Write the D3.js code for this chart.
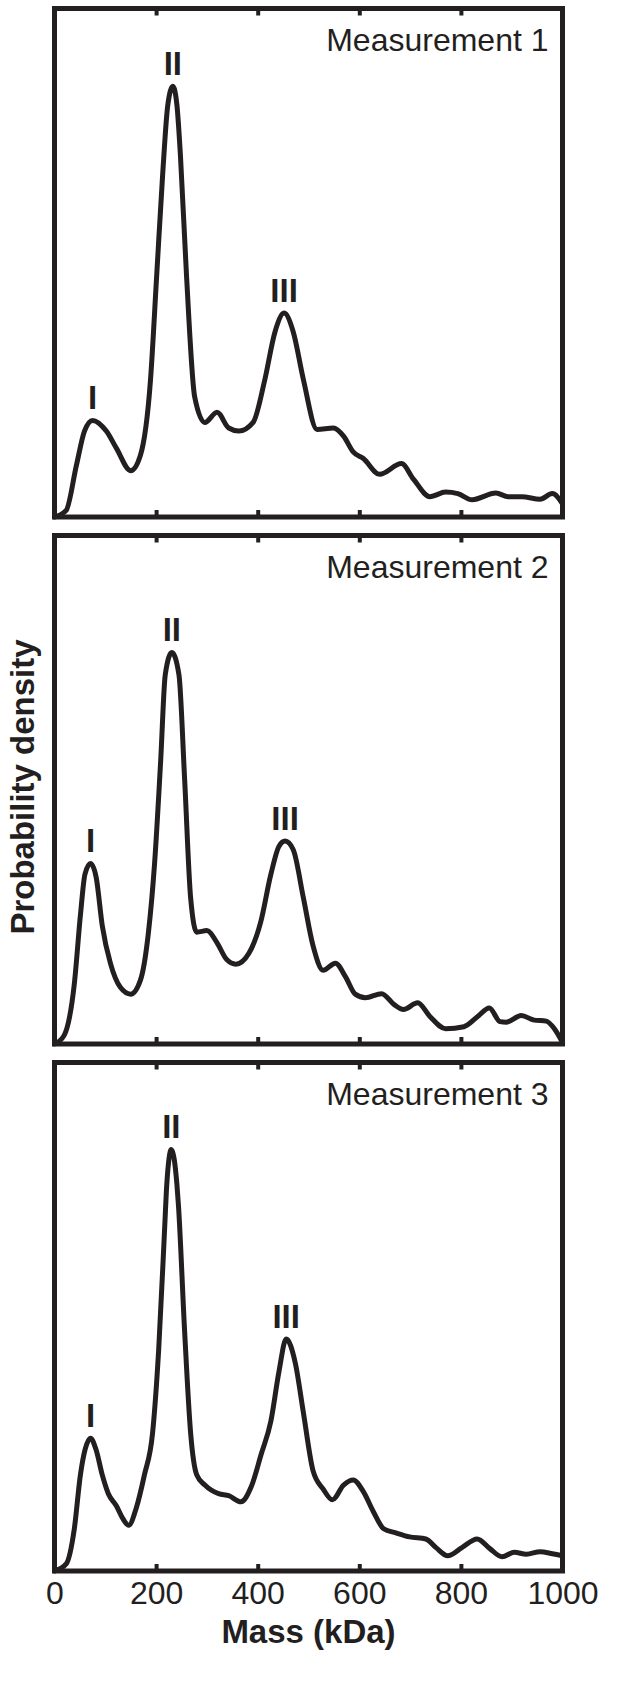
<!DOCTYPE html>
<html>
<head>
<meta charset="utf-8">
<title>Mass photometry - probability density</title>
<style>
  body { margin: 0; background: #fff; }
  svg { display: block; font-family: "Liberation Sans", Arial, sans-serif; }
  .frame { fill: none; stroke: #231f20; stroke-width: 5; }
  .curve { fill: none; stroke: #231f20; stroke-width: 5; stroke-linejoin: round; stroke-linecap: round; }
  .tick line { stroke: #231f20; stroke-width: 4; }
  .tick text { fill: #231f20; font-size: 32px; }
  .name { fill: #231f20; font-size: 32px; }
  .peak { fill: #231f20; font-size: 33px; font-weight: bold; }
  .title { fill: #231f20; font-size: 33px; font-weight: bold; }
</style>
</head>
<body>
<script src="https://cdn.jsdelivr.net/npm/d3@7"></script>
<script>

// values (mass in kDa, density in % of the frame height)
var names = ["Measurement 1", "Measurement 2", "Measurement 3"];

var mass1 = [0, 23, 43, 59, 75, 102, 122, 150, 169, 189, 201, 213, 223, 233, 241, 248, 260, 276, 296, 320, 343, 363, 391, 414, 434, 452, 470, 490, 517, 549, 569, 588, 608, 640, 683, 707, 739, 770, 794, 822, 869, 893, 920, 956, 980, 1000];
var density1 = [0, 1.3, 10.1, 16.9, 19.0, 16.9, 13.5, 9.1, 12.1, 27.0, 47.2, 67.5, 81.0, 84.7, 81.0, 70.9, 47.2, 23.6, 18.6, 20.6, 17.5, 16.9, 18.6, 27.0, 36.4, 40.1, 36.4, 27.0, 17.2, 17.5, 15.9, 12.8, 11.5, 8.4, 10.5, 7.4, 4.0, 4.9, 4.6, 3.4, 4.7, 4.0, 4.0, 3.5, 4.6, 2.6];

var mass2 = [0, 19, 39, 51, 60, 71, 82, 94, 110, 130, 150, 169, 185, 197, 209, 218, 231, 245, 256, 268, 280, 300, 320, 339, 357, 383, 406, 426, 442, 454, 470, 490, 509, 529, 553, 573, 592, 612, 644, 668, 687, 715, 739, 770, 806, 833, 856, 877, 889, 919, 944, 968, 984, 1000];
var density2 = [0, 1.7, 11.8, 25.3, 33.4, 35.5, 32.8, 23.3, 15.9, 11.1, 9.8, 12.5, 22.0, 35.5, 55.7, 72.6, 77.0, 72.6, 52.4, 28.7, 22.0, 22.3, 19.9, 16.6, 15.7, 17.9, 24.0, 33.4, 38.9, 39.9, 38.2, 28.7, 19.3, 14.5, 15.9, 13.2, 9.8, 9.1, 9.9, 7.8, 6.8, 8.1, 5.4, 3.0, 3.4, 5.4, 7.1, 4.4, 4.3, 5.6, 4.7, 4.5, 3.0, 0.3];

var mass3 = [0, 23, 39, 51, 60, 71, 82, 94, 106, 122, 134, 146, 161, 177, 193, 205, 217, 221, 230, 241, 244, 256, 268, 280, 296, 323, 343, 367, 387, 407, 426, 442, 456, 474, 490, 509, 529, 547, 569, 588, 608, 628, 648, 672, 699, 731, 751, 774, 802, 832, 857, 881, 905, 929, 956, 980, 1000];
var density3 = [0, 1.4, 8.3, 18.9, 23.8, 26.1, 23.8, 18.9, 15.2, 12.8, 10.4, 9.0, 12.4, 18.9, 27.1, 43.4, 67.8, 76.0, 82.9, 76.0, 71.9, 47.4, 27.1, 18.9, 16.9, 15.2, 14.8, 13.6, 16.5, 23.0, 29.5, 39.3, 45.6, 40.9, 31.1, 19.7, 16.1, 14.0, 16.9, 17.9, 15.6, 11.6, 8.3, 7.5, 6.7, 6.3, 4.6, 3.0, 4.6, 6.3, 4.4, 2.8, 3.7, 3.3, 3.8, 3.4, 3.0];

// peak annotations and the mass window each one is searched in
var peakNames = ["I", "II", "III"];
var peakWindows = [[0, 140], [180, 300], [400, 520]];

var xTicks = [0, 200, 400, 600, 800, 1000];

var series = [
  {name: names[0], mass: mass1, density: density1},
  {name: names[1], mass: mass2, density: density2},
  {name: names[2], mass: mass3, density: density3}
];

var W = 631, H = 1689;
var left = 54.5, right = 562.5;
var panelTop = 8.5, panelH = 508.5, panelStep = 527;

var svg = d3.select("body").append("svg")
    .attr("width", W)
    .attr("height", H);

var x = d3.scaleLinear()
    .domain([0, 1000])
    .range([left, right]);

series.forEach(function(s, i) {
  var top = panelTop + i * panelStep;
  var bottom = top + panelH;
  var last = i == series.length - 1;

  var y = d3.scaleLinear()
      .domain([0, 100])
      .range([bottom, top]);

  var g = svg.append("g");

  // inward ticks on top and bottom
  var topAxis = g.append("g")
      .attr("transform", "translate(0," + top + ")")
      .call(d3.axisTop(x).tickValues(xTicks).tickSizeInner(-7).tickSizeOuter(0).tickFormat(""));
  var botAxis = g.append("g")
      .attr("transform", "translate(0," + bottom + ")")
      .call(d3.axisBottom(x).tickValues(xTicks).tickSizeInner(-7).tickSizeOuter(0)
            .tickPadding(10).tickFormat(last ? d3.format("d") : ""));
  topAxis.select(".domain").remove();
  botAxis.select(".domain").remove();
  g.selectAll(".tick text").attr("font-family", null).attr("font-size", null);

  // density curve
  var pts = s.mass.map(function(m, k) { return [m, s.density[k]]; });
  var line = d3.line()
      .x(function(d) { return x(d[0]); })
      .y(function(d) { return y(d[1]); })
      .curve(d3.curveMonotoneX);

  g.append("path")
      .attr("class", "curve")
      .attr("d", line(pts));

  g.append("rect")
      .attr("class", "frame")
      .attr("x", left)
      .attr("y", top)
      .attr("width", right - left)
      .attr("height", bottom - top);

  g.append("text")
      .attr("class", "name")
      .attr("x", right - 14)
      .attr("y", top + 42.5)
      .attr("text-anchor", "end")
      .text(s.name);

  // label each peak just above its maximum
  peakNames.forEach(function(p, j) {
    var inWin = pts.filter(function(d) { return d[0] >= peakWindows[j][0] && d[0] <= peakWindows[j][1]; });
    var best = inWin.reduce(function(a, b) { return b[1] > a[1] ? b : a; });
    g.append("text")
        .attr("class", "peak")
        .attr("x", x(best[0]))
        .attr("y", y(best[1]) - 11)
        .attr("text-anchor", "middle")
        .text(p);
  });
});

// axis titles
svg.append("text")
    .attr("class", "title")
    .attr("x", (left + right) / 2)
    .attr("y", 1643)
    .attr("text-anchor", "middle")
    .text("Mass (kDa)");

svg.append("text")
    .attr("class", "title")
    .attr("transform", "translate(34," + 787 + ") rotate(-90)")
    .attr("text-anchor", "middle")
    .text("Probability density");

</script>
</body>
</html>
